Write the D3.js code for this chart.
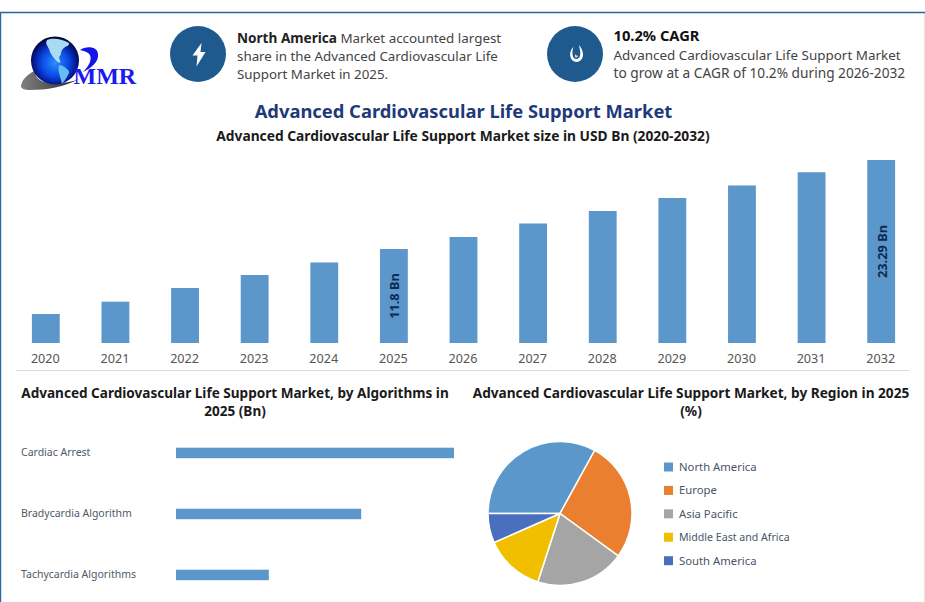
<!DOCTYPE html>
<html>
<head>
<meta charset="utf-8">
<script src="https://cdn.jsdelivr.net/npm/d3@7"></script>
<style>
html, body { margin: 0; padding: 0; background: #fff; }
svg { display: block; }
text { font-family: "Noto Sans", "Open Sans", sans-serif; }
</style>
</head>
<body>
<svg width="925" height="602"></svg>
<script>
// market size chart
var years = ["2020", "2021", "2022", "2023", "2024", "2025", "2026", "2027", "2028", "2029", "2030", "2031", "2032"];
var marketSize = [3.69, 5.26, 7.0, 8.65, 10.25, 11.96, 13.49, 15.21, 16.8, 18.45, 20.05, 21.73, 23.29];
var barLabels = { "2025": "11.8 Bn", "2032": "23.29 Bn" };
// algorithms chart
var algorithms = ["Cardiac Arrest", "Bradycardia Algorithm", "Tachycardia Algorithms"];
var algorithmValues = [5.9, 3.93, 1.97];
// region chart
var regions = ["North America", "Europe", "Asia Pacific", "Middle East and Africa", "South America"];
var regionShares = [33, 27, 20, 13.4, 6.6];

var barColor = "#5b97ca";
var regionColors = ["#5b97ca", "#e97f2f", "#a5a5a5", "#f2be00", "#4a6fbf"];

var svg = d3.select("svg");

function addText(x, y, str, size, weight, color, anchor) {
	return svg.append("text")
		.attr("x", x)
		.attr("y", y)
		.attr("font-size", size)
		.attr("font-weight", weight)
		.attr("fill", color)
		.attr("text-anchor", anchor || "start")
		.text(str);
}

// outer frame
svg.append("line")
	.attr("x1", 924.5).attr("x2", 924.5).attr("y1", 13).attr("y2", 602)
	.attr("stroke", "#e8e8e8").attr("stroke-width", 1.5);
svg.append("path")
	.attr("d", "M0.5,602V12.5H925")
	.attr("fill", "none")
	.attr("stroke", "#2a659f")
	.attr("stroke-width", 1.4);

/////////////////////////////////////
// logo
var defs = svg.append("defs");
var globe = defs.append("radialGradient").attr("id", "globe")
	.attr("cx", "0.5").attr("cy", "0.55").attr("r", "0.55");
globe.append("stop").attr("offset", "0").attr("stop-color", "#2f8cff");
globe.append("stop").attr("offset", "0.5").attr("stop-color", "#0a4be6");
globe.append("stop").attr("offset", "0.82").attr("stop-color", "#05158c");
globe.append("stop").attr("offset", "1").attr("stop-color", "#020624");
var swoosh = defs.append("linearGradient").attr("id", "swoosh");
swoosh.append("stop").attr("offset", "0").attr("stop-color", "#808080");
swoosh.append("stop").attr("offset", "0.5").attr("stop-color", "#555");
swoosh.append("stop").attr("offset", "1").attr("stop-color", "#222");

svg.append("path")
	.attr("d", "M21,86C22,79 28,74 36,70C34,76 38,81 48,83C58,84 70,83 79,79C65,87 46,90 30,90C25,90 21,89 21,86Z")
	.attr("fill", "url(#swoosh)");
svg.append("circle").attr("cx", 55).attr("cy", 60.5).attr("r", 24).attr("fill", "url(#globe)");
svg.append("path")
	.attr("d", "M47,40C52,38 60,38 69,43C70,46 65,46 63,49C60,52 62,55 59,57C59,60 62,62 59,63C56,61 52,56 50,52C49,48 47,46 46,43Z")
	.attr("fill", "#a9dcf2");
svg.append("path")
	.attr("d", "M59,65C63,65 70,70 69,73C67,77 64,82 62,84C61,78 57,71 59,65Z")
	.attr("fill", "#66bcf0");
svg.append("path")
	.attr("d", "M80,50C86,46 97,46 98,54C99,62 91,68 83,72C89,66 92,60 90,55C88,52 84,51 80,50Z")
	.attr("fill", "#1414e6");
svg.append("text")
	.attr("x", 73.5).attr("y", 84)
	.attr("font-size", 24)
	.attr("font-weight", "bold")
	.attr("fill", "#1a1af0")
	.style("font-family", "'Liberation Serif', serif")
	.text("MMR");

// header badges
svg.append("circle").attr("cx", 198).attr("cy", 54).attr("r", 28).attr("fill", "#1f5a8f");
svg.append("path")
	.attr("d", "M201.5,43L192.5,55.5H197.5L196.5,66.5L205.5,52H200.5Z")
	.attr("fill", "#fff");
svg.append("circle").attr("cx", 575).attr("cy", 54).attr("r", 28).attr("fill", "#1f5a8f");
svg.append("path")
	.attr("fill-rule", "evenodd")
	.attr("d", "M573.5,47C570,50 569.5,55 571,58.5C573,62.5 578,63 581,60C584,57 584,51 579,45C579.5,49 581,52 580,56C579,59 576,60 574,58C572,55.5 572,51 573.5,47Z")
	.attr("fill", "#fff");
svg.append("path")
	.attr("d", "M575,54C576,55.5 577,56 578,55.5C578,57.5 576,58 575,57Z")
	.attr("fill", "#cfe3f3");

var note1 = addText(237, 43, "North America", 13.6, "bold", "#222");
note1.append("tspan").attr("font-weight", "normal").attr("fill", "#444").attr("font-size", 13.4).text(" Market accounted largest");
addText(237, 61, "share in the Advanced Cardiovascular Life", 13.35, "normal", "#444");
addText(237, 78.5, "Support Market in 2025.", 13.35, "normal", "#444");

addText(613.5, 40.5, "10.2% CAGR", 14.7, "bold", "#111");
addText(613.5, 60, "Advanced Cardiovascular Life Support Market", 13.45, "normal", "#444");
addText(613.5, 78, "to grow at a CAGR of 10.2% during 2026-2032", 13.7, "normal", "#444");

addText(463.5, 117.5, "Advanced Cardiovascular Life Support Market", 18.35, "bold", "#1f3a7a", "middle");
addText(463, 140.5, "Advanced Cardiovascular Life Support Market size in USD Bn (2020-2032)", 13.78, "bold", "#1a1a1a", "middle");

/////////////////////////////////////
// market size bars
var baseY = 343;
var x = d3.scaleBand()
	.domain(years)
	.range([11, 916])
	.paddingInner(0.6)
	.paddingOuter(0.3);
var y = d3.scaleLinear()
	.domain([0, 23.29])
	.range([baseY, 160]);

svg.selectAll(".bar")
	.data(years)
	.enter().append("rect")
	.attr("class", "bar")
	.attr("x", function (d) { return x(d); })
	.attr("y", function (d, i) { return y(marketSize[i]); })
	.attr("width", x.bandwidth())
	.attr("height", function (d, i) { return baseY - y(marketSize[i]); })
	.attr("fill", barColor);

var xAxis = svg.append("g")
	.attr("transform", "translate(0," + baseY + ")")
	.call(d3.axisBottom(x).tickSize(0).tickPadding(11.5));
xAxis.select(".domain").remove();
xAxis.selectAll("text")
	.attr("dx", -0.5)
	.attr("font-size", 12.6)
	.attr("fill", "#555")
	.style("font-family", "'Noto Sans', sans-serif");

svg.append("line")
	.attr("x1", 16).attr("x2", 909).attr("y1", 370.5).attr("y2", 370.5)
	.attr("stroke", "#d9d9d9").attr("stroke-width", 1.2);

// labels inside the bars
years.forEach(function (yr, i) {
	if (!barLabels[yr]) return;
	var cx = x(yr) + x.bandwidth() / 2;
	var cy = (y(marketSize[i]) + baseY) / 2;
	svg.append("text")
		.attr("transform", "translate(" + (cx + 5.5) + "," + cy + ") rotate(-90)")
		.attr("text-anchor", "middle")
		.attr("font-size", 12.8)
		.attr("font-weight", "bold")
		.attr("fill", "#0c2b52")
		.text(barLabels[yr]);
});

/////////////////////////////////////
// algorithms
addText(235, 398, "Advanced Cardiovascular Life Support Market, by Algorithms in", 13.57, "bold", "#1a1a1a", "middle");
addText(235, 416, "2025 (Bn)", 13.57, "bold", "#1a1a1a", "middle");

var hx = d3.scaleLinear()
	.domain([0, 5.9])
	.range([176, 454]);
var hy = d3.scaleBand()
	.domain(algorithms)
	.range([447.7, 580.2])
	.paddingInner(0.828)
	.paddingOuter(0);
// axis sits on the bars, labels pulled back to the left edge
var hAxis = svg.append("g")
	.attr("transform", "translate(176,0)")
	.call(d3.axisLeft(hy).tickSize(0).tickPadding(0));
hAxis.select(".domain").remove();
hAxis.selectAll("text")
	.attr("x", -155)
	.attr("dy", "0.3em")
	.attr("text-anchor", "start")
	.attr("font-size", 10.5)
	.attr("fill", "#4f5a68")
	.style("font-family", "'Noto Sans', sans-serif");

svg.selectAll(".hbar")
	.data(algorithms)
	.enter().append("rect")
	.attr("class", "hbar")
	.attr("x", hx(0))
	.attr("y", function (d) { return hy(d); })
	.attr("width", function (d, i) { return hx(algorithmValues[i]) - hx(0); })
	.attr("height", hy.bandwidth())
	.attr("fill", barColor);

/////////////////////////////////////
// region pie
addText(691, 398, "Advanced Cardiovascular Life Support Market, by Region in 2025", 13.66, "bold", "#1a1a1a", "middle");
addText(691, 416, "(%)", 13.66, "bold", "#1a1a1a", "middle");

var pie = d3.pie()
	.sort(null)
	.startAngle(-Math.PI / 2)
	.endAngle(Math.PI * 1.5);
var arc = d3.arc().innerRadius(0).outerRadius(72);

svg.append("g")
	.attr("transform", "translate(560,513.5)")
	.selectAll("path")
	.data(pie(regionShares))
	.enter().append("path")
	.attr("d", arc)
	.attr("fill", function (d, i) { return regionColors[i]; })
	.attr("stroke", "#fff")
	.attr("stroke-width", 1.5);

var legendY = d3.scalePoint()
	.domain(regions)
	.range([467, 560.7]);
var legend = svg.selectAll(".legend")
	.data(regions)
	.enter().append("g")
	.attr("class", "legend")
	.attr("transform", function (d) { return "translate(664," + legendY(d) + ")"; });
legend.append("rect")
	.attr("y", -4.5)
	.attr("width", 9)
	.attr("height", 9)
	.attr("fill", function (d, i) { return regionColors[i]; });
legend.append("text")
	.attr("x", 15)
	.attr("dy", "0.35em")
	.attr("font-size", function (d) { return d.length > 15 ? 10.6 : 11.3; })
	.attr("fill", "#4a5568")
	.text(function (d) { return d; });
</script>
</body>
</html>
